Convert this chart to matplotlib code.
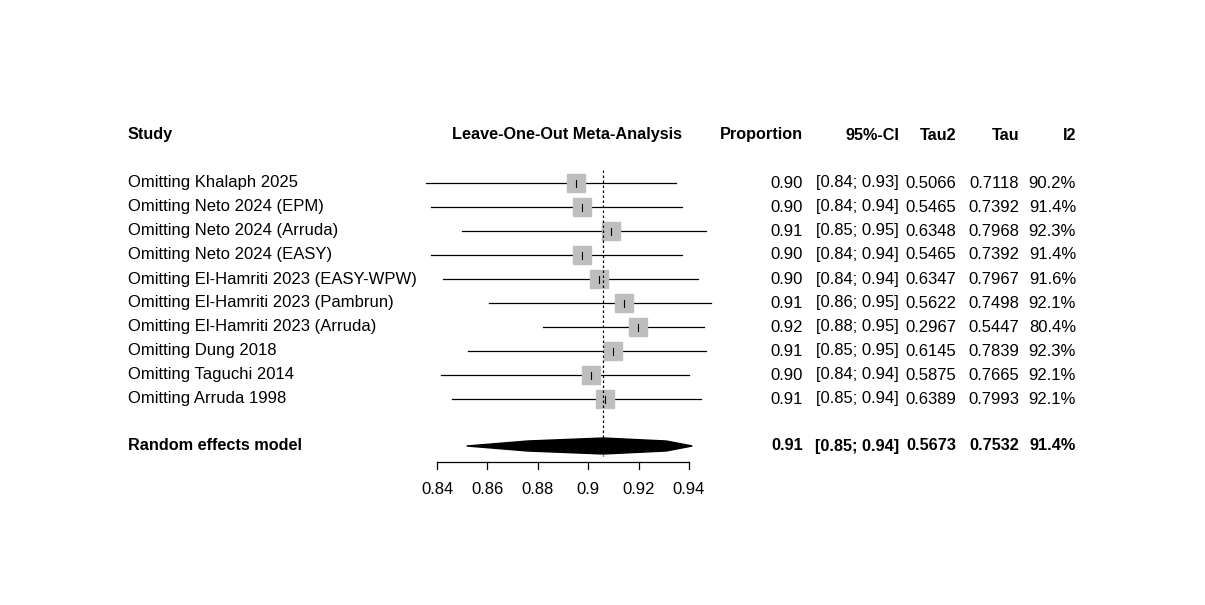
import matplotlib
matplotlib.use("Agg")
import matplotlib.pyplot as plt
from matplotlib.patches import Polygon

plt.rcParams['font.family'] = ['Liberation Sans', 'DejaVu Sans']

studies = ["Omitting Khalaph 2025", "Omitting Neto 2024 (EPM)", "Omitting Neto 2024 (Arruda)",
           "Omitting Neto 2024 (EASY)", "Omitting El-Hamriti 2023 (EASY-WPW)",
           "Omitting El-Hamriti 2023 (Pambrun)", "Omitting El-Hamriti 2023 (Arruda)",
           "Omitting Dung 2018", "Omitting Taguchi 2014", "Omitting Arruda 1998"]
est = [0.8953, 0.8975, 0.9090, 0.8975, 0.9043, 0.9141, 0.9198, 0.9100, 0.9011, 0.9067]
lo = [0.8355, 0.8375, 0.8498, 0.8375, 0.8422, 0.8606, 0.8821, 0.8522, 0.8415, 0.8458]
hi = [0.9350, 0.9374, 0.9466, 0.9374, 0.9437, 0.9486, 0.9461, 0.9466, 0.9401, 0.9449]
prop_txt = ["0.90", "0.90", "0.91", "0.90", "0.90", "0.91", "0.92", "0.91", "0.90", "0.91"]
ci_txt = ["[0.84; 0.93]", "[0.84; 0.94]", "[0.85; 0.95]", "[0.84; 0.94]", "[0.84; 0.94]",
          "[0.86; 0.95]", "[0.88; 0.95]", "[0.85; 0.95]", "[0.84; 0.94]", "[0.85; 0.94]"]
tau2 = ["0.5066", "0.5465", "0.6348", "0.5465", "0.6347", "0.5622", "0.2967", "0.6145", "0.5875", "0.6389"]
tau = ["0.7118", "0.7392", "0.7968", "0.7392", "0.7967", "0.7498", "0.5447", "0.7839", "0.7665", "0.7993"]
i2 = ["90.2%", "91.4%", "92.3%", "91.4%", "91.6%", "92.1%", "80.4%", "92.3%", "92.1%", "92.1%"]
re_est, re_lo, re_hi = 0.9060, 0.8518, 0.9413
re_row = ["0.91", "[0.85; 0.94]", "0.5673", "0.7532", "91.4%"]
ticks = [0.84, 0.86, 0.88, 0.9, 0.92, 0.94]
tick_labels = ["0.84", "0.86", "0.88", "0.9", "0.92", "0.94"]

W, H = 1205, 605
fig = plt.figure(figsize=(W / 100, H / 100), dpi=100)
ax = fig.add_axes([437 / W, 0, 252 / W, 1])
ax.set_xlim(0.84, 0.94)
ax.set_ylim(H, 0)
ax.axis('off')

rows_y = [183 + 24 * i for i in range(len(studies))]
fs = 12
fsb = 11.7
for y, e, l, h in zip(rows_y, est, lo, hi):
    ax.plot([l, h], [y, y], color='black', lw=0.9, clip_on=False)
    ax.scatter([e], [y], marker='s', s=165, color='#bebebe', zorder=3, clip_on=False)
    ax.plot([e, e], [y - 3.5, y + 3.5], color='black', lw=0.8, zorder=4, clip_on=False)

ax.plot([re_est, re_est], [170, 456], color='black', lw=0.9, ls=(0, (2, 2)), zorder=5)
ys = 446
ax.add_patch(Polygon([[re_lo, ys], [re_est - 0.03, ys - 5], [re_est, ys - 8], [re_est + 0.025, ys - 5],
                      [re_hi, ys], [re_est + 0.025, ys + 5], [re_est, ys + 8], [re_est - 0.03, ys + 5]],
                     closed=True, color='black', clip_on=False))

ax.plot([0.84, 0.94], [462, 462], color='black', lw=0.9, clip_on=False)
for t, lab in zip(ticks, tick_labels):
    ax.plot([t, t], [462, 469], color='black', lw=0.9, clip_on=False)
    ax.text(t, 490, lab, ha='center', va='center', fontsize=fs)

def fx(px):
    return px / W

def fy(py):
    return 1 - py / H

hy = 135
fig.text(fx(128), fy(hy), "Study", ha='left', va='center', fontsize=fsb, weight='bold')
fig.text(fx(567), fy(hy), "Leave-One-Out Meta-Analysis", ha='center', va='center', fontsize=fsb, weight='bold')
cols_x = [803, 899, 956, 1019, 1076]
heads = ["Proportion", "95%-CI", "Tau2", "Tau", "I2"]
for cx, hd in zip(cols_x, heads):
    fig.text(fx(cx), fy(hy), hd, ha='right', va='center', fontsize=fsb, weight='bold')

for i, y in enumerate(rows_y):
    fig.text(fx(128), fy(y), studies[i], ha='left', va='center', fontsize=fs)
    for cx, v in zip(cols_x, [prop_txt[i], ci_txt[i], tau2[i], tau[i], i2[i]]):
        fig.text(fx(cx), fy(y), v, ha='right', va='center', fontsize=fs)

fig.text(fx(128), fy(ys), "Random effects model", ha='left', va='center', fontsize=fsb, weight='bold')
for cx, v in zip(cols_x, re_row):
    fig.text(fx(cx), fy(ys), v, ha='right', va='center', fontsize=fsb, weight='bold')

fig.savefig("out.png", dpi=100, facecolor='white')
